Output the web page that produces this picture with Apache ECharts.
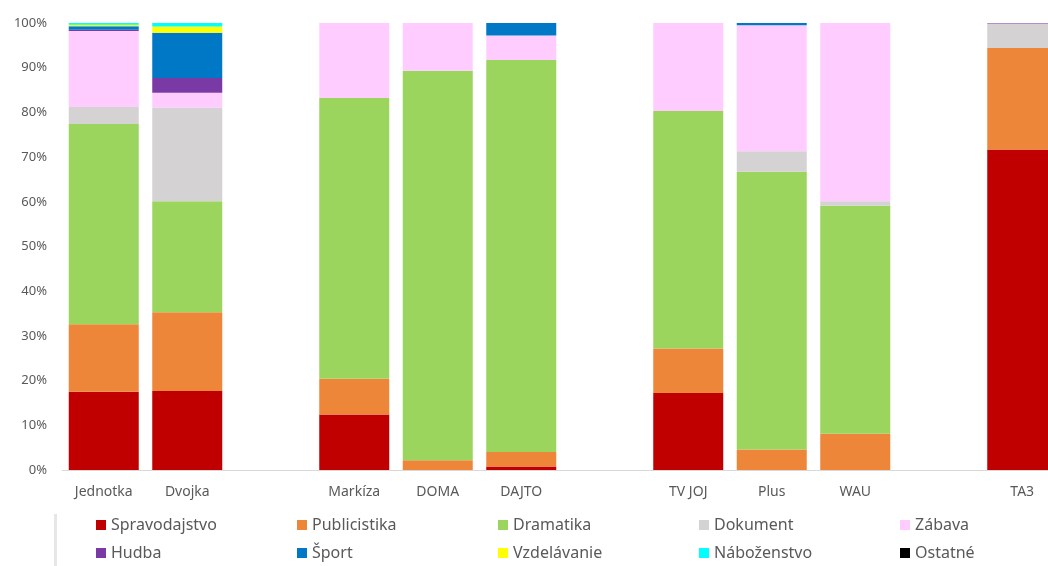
<!DOCTYPE html>
<html>
<head>
<meta charset="utf-8">
<script src="https://cdn.jsdelivr.net/npm/echarts@6/dist/echarts.min.js"></script>
<style>html,body{margin:0;padding:0;background:#fff;overflow:hidden}#c{width:1064px;height:566px}</style>
</head>
<body>
<div id="c"></div>
<script>
const categories = ['Jednotka', 'Dvojka', '', 'Markíza', 'DOMA', 'DAJTO', '', 'TV JOJ', 'Plus', 'WAU', '', 'TA3'];
const tickLabels = ['0%', '10%', '20%', '30%', '40%', '50%', '60%', '70%', '80%', '90%', '100%'];
const seriesNames = ['Spravodajstvo', 'Publicistika', 'Dramatika', 'Dokument', 'Zábava', 'Hudba', 'Šport', 'Vzdelávanie', 'Náboženstvo', 'Ostatné'];
const spravodajstvo = [17.5, 17.7, null, 12.4, 0, 0.8, null, 17.2, 0, 0, null, 71.7];
const publicistika  = [15.1, 17.6, null, 8.0, 2.2, 3.2, null, 10.0, 4.6, 8.1, null, 22.7];
const dramatika     = [44.8, 24.8, null, 62.8, 87.1, 87.7, null, 53.1, 62.1, 51.0, null, 0];
const dokument      = [3.8, 21.0, null, 0, 0, 0, null, 0, 4.6, 1.0, null, 5.5];
const zabava        = [17.0, 3.3, null, 16.8, 10.7, 5.5, null, 19.7, 28.2, 39.9, null, 0];
const hudba         = [0.3, 3.3, null, 0, 0, 0, null, 0, 0, 0, null, 0.1];
const sport         = [0.8, 10.1, null, 0, 0, 2.8, null, 0, 0.5, 0, null, 0];
const vzdelavanie   = [0.3, 1.4, null, 0, 0, 0, null, 0, 0, 0, null, 0];
const nabozenstvo   = [0.4, 0.8, null, 0, 0, 0, null, 0, 0, 0, null, 0];
const ostatne       = [0, 0, null, 0, 0, 0, null, 0, 0, 0, null, 0];

const values = [spravodajstvo, publicistika, dramatika, dokument, zabava, hudba, sport, vzdelavanie, nabozenstvo, ostatne];
const colors = ['#C00000', '#EE863A', '#9CD55E', '#D4D2D3', '#FFCCFF', '#7A3AA6', '#0078C6', '#FFFF00', '#00FFFF', '#000000'];

const font = 'Noto Sans';
const textColor = '#595959';

const legendPos = [];
for (let i = 0; i < 10; i++) {
  legendPos.push({ left: 96 + (i % 5) * 201, top: (i < 5 ? 517 : 545) });
}

const chart = echarts.init(document.getElementById('c'), null, { renderer: 'canvas' });
chart.setOption({
  animation: false,
  color: colors,
  grid: { left: 62, right: 0, top: 23, bottom: 96 },
  legend: seriesNames.map((n, i) => ({
    data: [n],
    left: legendPos[i].left,
    top: legendPos[i].top,
    icon: 'rect',
    itemWidth: 10,
    itemHeight: 10,
    itemGap: 0,
    padding: 0,
    textStyle: { color: textColor, fontFamily: font, fontSize: 16 }
  })),
  graphic: [{
    type: 'rect',
    shape: { x: 54, y: 514, width: 3, height: 52 },
    style: { fill: '#e6e6e6' }
  }],
  xAxis: {
    type: 'category',
    data: categories,
    axisLine: { lineStyle: { color: '#D9D9D9', width: 1 } },
    axisTick: { show: false },
    axisLabel: { color: textColor, fontFamily: font, fontSize: 14, margin: 15, interval: 0 }
  },
  yAxis: {
    type: 'value',
    min: 0,
    max: 100,
    interval: 10,
    axisLine: { show: false },
    axisTick: { show: false },
    splitLine: { show: false },
    axisLabel: {
      color: textColor, fontFamily: font, fontSize: 13, margin: 15,
      formatter: (v) => tickLabels[Math.round(v / 10)]
    }
  },
  series: seriesNames.map((n, i) => ({
    name: n,
    type: 'bar',
    stack: 'total',
    barWidth: 70,
    data: values[i],
    itemStyle: { color: colors[i] }
  }))
});
</script>
</body>
</html>
